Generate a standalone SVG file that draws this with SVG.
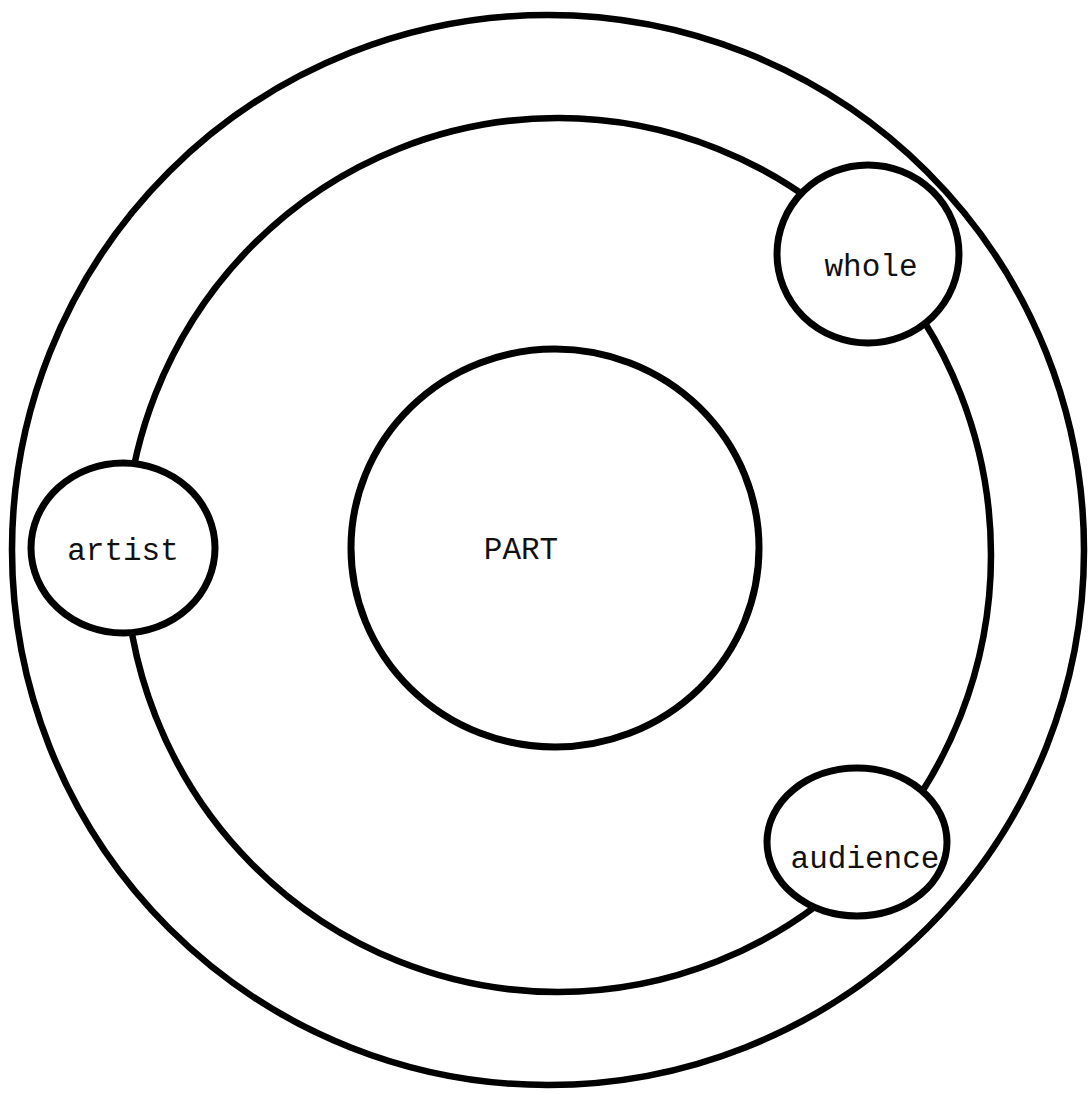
<svg xmlns="http://www.w3.org/2000/svg" width="1091" height="1095" viewBox="0 0 1091 1095">
<style>
.ring{fill:none;stroke:#000;stroke-width:6.5}
.node{fill:#fff;stroke:#000;stroke-width:7}
.lbl{font-family:"Liberation Mono","DejaVu Sans Mono",monospace;font-size:31px;fill:#111;text-anchor:middle}
</style>
<rect width="1091" height="1095" fill="#fff"/>
<g id="outer-ring">
<ellipse class="ring" cx="548" cy="550" rx="536" ry="535"/>
</g>
<g id="connectors">
<ellipse class="ring" cx="558" cy="555" rx="433" ry="437"/>
</g>
<g id="node-part">
<ellipse class="node" cx="555" cy="548" rx="204" ry="199"/>
<text class="lbl" x="521" y="559">PART</text>
</g>
<g id="node-whole">
<ellipse class="node" cx="868" cy="254" rx="91" ry="89"/>
<text class="lbl" x="871" y="276">whole</text>
</g>
<g id="node-artist">
<ellipse class="node" cx="123" cy="548" rx="92" ry="85"/>
<text class="lbl" x="123" y="560">artist</text>
</g>
<g id="node-audience">
<ellipse class="node" cx="857" cy="842" rx="90" ry="74"/>
<text class="lbl" x="865" y="868">audience</text>
</g>
</svg>
